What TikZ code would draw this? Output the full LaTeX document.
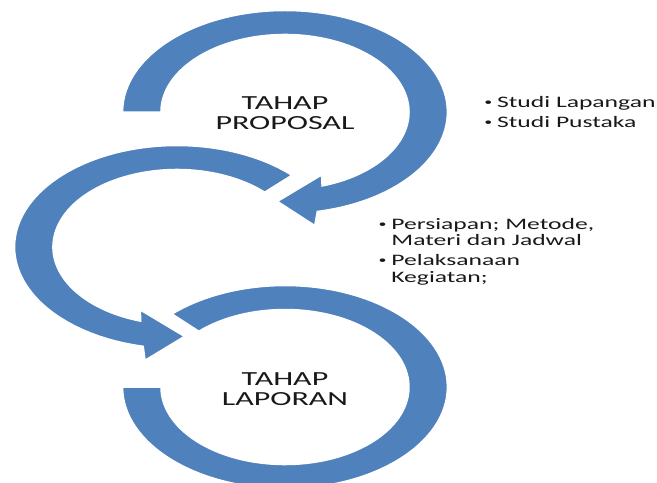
\documentclass[tikz,border=0pt]{standalone}
\usepackage{fontspec}
\setmainfont{Carlito}
\usetikzlibrary{calc}
\definecolor{mainBlue}{RGB}{79,129,189}
\definecolor{mainBlack}{gray}{0.1}
\newcommand{\butir}[1]{\makebox[8pt][l]{\raisebox{1.6pt}{\fontsize{10}{10}\selectfont\textbullet}}#1}
\newcommand{\lanjut}[1]{\hspace*{8pt}#1}

\begin{document}
\begin{tikzpicture}[x=1pt, y=1pt, xscale=1.6,
    ring/.style={fill=mainBlue, draw=white, line width=1.5pt},
    stage/.style={transform shape, align=center, text=mainBlack, font=\fontsize{20}{20}\selectfont},
    notes/.style={transform shape, align=left, inner sep=0pt, text=mainBlack, font=\fontsize{16}{16.5}\selectfont}]
    \useasboundingbox (0,0) rectangle (410.6,482);
    \clip (0,0) rectangle (410.6,482);

    % lower ring, no head
    \begin{scope}[shift={(178.1,95)}]
        \path[ring] (-180:101.5) arc[start angle=-180, end angle=134, radius=101.5]
            -- (134:77.5) arc[start angle=134, end angle=-180, radius=77.5] -- cycle;
    \end{scope}

    % middle ring
    \begin{scope}[shift={(110.6,235)}]
        \path[ring] (45:101.5) arc[start angle=45, end angle=258, radius=101.5]
            -- (260:115) -- (273:89.5) -- (250:67) -- (253:77.5)
            arc[start angle=253, end angle=45, radius=77.5] -- cycle;
    \end{scope}

    % upper ring
    \begin{scope}[shift={(178.1,370)}]
        \path[ring] (180:101.5) arc[start angle=180, end angle=-78.5, radius=101.5]
            -- (-80.7:115) -- (-93:89.5) -- (-70:67) -- (-72.6:77.5)
            arc[start angle=-72.6, end angle=180, radius=77.5] -- cycle;
    \end{scope}

    \node[stage] (proposal) at (178.1,369) {TAHAP\\PROPOSAL};
    \node[stage] (laporan) at (178.1,93) {TAHAP\\LAPORAN};

    % base anchor sits on the last line
    \node[notes, anchor=base west] (studi) at (302.5,355)
        {\butir{Studi Lapangan}\\[3.5pt]\butir{Studi Pustaka}};
    \node[notes, anchor=base west] (kegiatan) at (236.4,200)
        {\butir{Persiapan; Metode,}\\\lanjut{Materi dan Jadwal}\\[3.5pt]%
         \butir{Pelaksanaan}\\\lanjut{Kegiatan;}};
\end{tikzpicture}
\end{document}
